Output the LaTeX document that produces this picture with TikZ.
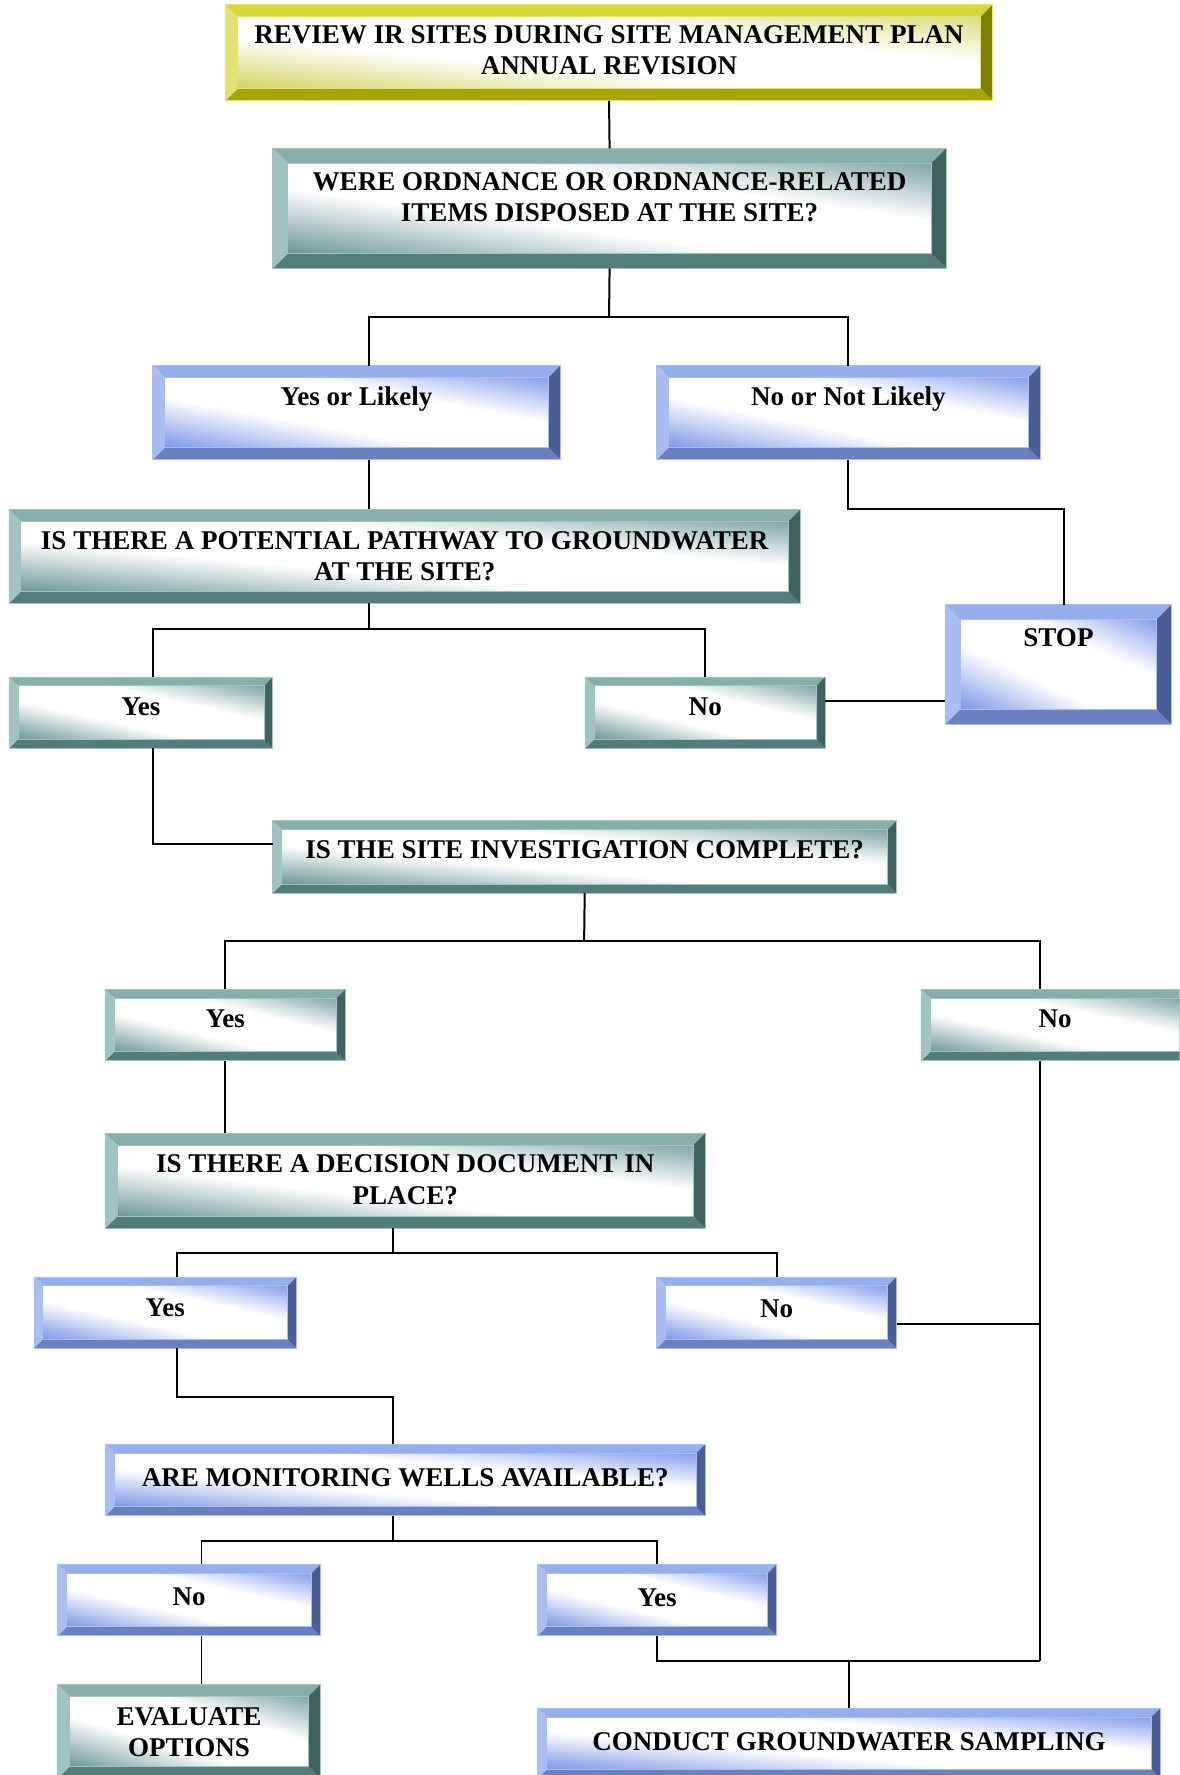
\documentclass[tikz,border=0pt]{standalone}
\usepackage{fontspec}
\setmainfont{Liberation Serif}
\usetikzlibrary{fit}
% teal family
\definecolor{tealT}{HTML}{86AFAC}
\definecolor{tealL}{HTML}{A0C4C2}
\definecolor{tealB}{HTML}{527D7A}
\definecolor{tealR}{HTML}{3F615F}
\definecolor{tealS1}{HTML}{6A9794}
\definecolor{tealS2}{HTML}{7FA6A3}
% blue family
\definecolor{blueT}{HTML}{95AEEC}
\definecolor{blueL}{HTML}{A9BDF2}
\definecolor{blueB}{HTML}{6A80C0}
\definecolor{blueR}{HTML}{4B5E94}
\definecolor{blueS1}{HTML}{7A95E6}
\definecolor{blueS2}{HTML}{859EEA}
% yellow family
\definecolor{yelT}{HTML}{D6D636}
\definecolor{yelL}{HTML}{E2E272}
\definecolor{yelB}{HTML}{A6A600}
\definecolor{yelR}{HTML}{808000}
\definecolor{yelS1}{HTML}{D3D35E}
\definecolor{yelS2}{HTML}{DCDC80}
\pgfdeclarehorizontalshading{tealsh}{100bp}{color(0bp)=(tealS1); color(25bp)=(tealS1); color(43bp)=(white); color(59bp)=(white); color(75bp)=(tealS2); color(100bp)=(tealS2)}
\pgfdeclarehorizontalshading{bluesh}{100bp}{color(0bp)=(blueS1); color(25bp)=(blueS1); color(43bp)=(white); color(59bp)=(white); color(75bp)=(blueS2); color(100bp)=(blueS2)}
\pgfdeclarehorizontalshading{yelsh}{100bp}{color(0bp)=(yelS1); color(25bp)=(yelS1); color(43bp)=(white); color(59bp)=(white); color(75bp)=(yelS2); color(100bp)=(yelS2)}
% #1 text offset (optional), #2 family, #3 name, #4 x1, #5 y1, #6 x2, #7 y2, #8 text
\newcommand\bevbox[8][19]{%
  \pgfmathsetmacro\bv{0.125*(#7-#5)}%
  \pgfmathsetmacro\xa{#4+\bv}\pgfmathsetmacro\xb{#6-\bv}%
  \pgfmathsetmacro\ya{#5+\bv}\pgfmathsetmacro\yb{#7-\bv}%
  \pgfmathsetmacro\xm{(#4+#6)/2}\pgfmathsetmacro\ym{(#5+#7)/2}%
  \pgfmathsetmacro\wcm{(\xb-\xa)*0.02}\pgfmathsetmacro\hcm{(\yb-\ya)*0.02}%
  \fill[#2T] (#4,#5) -- (#6,#5) -- (\xb,\ya) -- (\xa,\ya) -- cycle;
  \fill[#2B] (#4,#7) -- (#6,#7) -- (\xb,\yb) -- (\xa,\yb) -- cycle;
  \fill[#2L] (#4,#5) -- (\xa,\ya) -- (\xa,\yb) -- (#4,#7) -- cycle;
  \fill[#2R] (#6,#5) -- (\xb,\ya) -- (\xb,\yb) -- (#6,#7) -- cycle;
  \begin{scope}
    \clip (\xa,\ya) rectangle (\xb,\yb);
    \begin{scope}[transform canvas={shift={(\xm,\ym)}, xscale=\wcm, yscale=\hcm, rotate=45}]
      \shade[shading=#2sh] (-0.7072cm,-0.7072cm) rectangle (0.7072cm,0.7072cm);
    \end{scope}
  \end{scope}
  \draw[#2O] (\xa,\ya) rectangle (\xb,\yb);
  \draw[#2O] (#4,#5) rectangle (#6,#7);
  \node[inner sep=0pt, outer sep=0pt, fit={(#4,#5) (#6,#7)}] (#3) {};
  \node[lbl, anchor=north] (#3-t) at (\xm,#5+#1) {#8};
}
\begin{document}
\begin{tikzpicture}[x=0.02cm,y=-0.02cm,
  conn/.style={draw=black, line width=1pt},
  lbl/.style={font=\fontsize{13.6}{15.9}\selectfont\bfseries, align=center, inner sep=0pt, text=black},
  tealO/.style={draw=tealL, line width=0.4pt},
  blueO/.style={draw=blueL, line width=0.4pt},
  yelO/.style={draw=yelL, line width=0.4pt}]
\useasboundingbox (0,0) rectangle (1042,1568);
\clip (0,0) rectangle (1042,1568);

% boxes
\bevbox[18]{yel}{top}{199}{4}{877}{89}{REVIEW IR SITES DURING SITE MANAGEMENT PLAN\\ANNUAL REVISION}
\bevbox[21]{teal}{q1}{241}{131}{836}{237}{WERE ORDNANCE OR ORDNANCE-RELATED\\ITEMS DISPOSED AT THE SITE?}
\bevbox[18]{blue}{yl}{135}{323}{495}{406}{Yes or Likely}
\bevbox[18]{blue}{nl}{580}{323}{919}{406}{No or Not Likely}
\bevbox[19]{teal}{q2}{8}{450}{707}{533}{IS THERE A POTENTIAL PATHWAY TO GROUNDWATER\\AT THE SITE?}
\bevbox[18]{teal}{y2}{8}{598}{241}{661}{Yes}
\bevbox[18]{teal}{n2}{517}{598}{729}{661}{No}
\bevbox[21]{blue}{stop}{835}{534}{1035}{640}{STOP}
\bevbox[17]{teal}{q3}{241}{725}{792}{789}{IS THE SITE INVESTIGATION COMPLETE?}
\bevbox[18]{teal}{y3}{93}{874}{305}{937}{Yes}
\bevbox[18]{teal}{n3}{814}{874}{1050}{937}{No}
\bevbox[19]{teal}{q4}{93}{1001}{623}{1085}{IS THERE A DECISION DOCUMENT IN\\PLACE?}
\bevbox[19]{blue}{y4}{30}{1128}{262}{1191}{Yes}
\bevbox[20]{blue}{n4}{580}{1128}{792}{1191}{No}
\bevbox[21]{blue}{q5}{93}{1276}{623}{1339}{ARE MONITORING WELLS AVAILABLE?}
\bevbox[20]{blue}{n5}{51}{1382}{283}{1445}{No}
\bevbox[21]{blue}{y5}{475}{1382}{686}{1445}{Yes}
\bevbox[20]{teal}{ev}{51}{1488}{283}{1571}{EVALUATE\\OPTIONS}
\bevbox[21]{blue}{cg}{475}{1509}{1025}{1571}{CONDUCT GROUNDWATER SAMPLING}

% columns and rows
\coordinate (c135) at (135,0);
\coordinate (c156) at (156,0);
\coordinate (c178) at (178,0);
\coordinate (c199) at (199,0);
\coordinate (c326) at (326,0);
\coordinate (c347) at (347,0);
\coordinate (c750) at (750,0);
\coordinate (c919) at (919,0);
\coordinate (c940) at (940,0);
\coordinate (r450) at (0,450);
\coordinate (r619) at (0,619);
\coordinate (r746) at (0,746);
\coordinate (r1170) at (0,1170);
\coordinate (r1234) at (0,1234);
% junctions
\coordinate (j1) at (538,280);
\coordinate (j3) at (326,556);
\coordinate (j4) at (516,831);
\coordinate (j5) at (347,1107);
\coordinate (j6) at (919,1467);
\coordinate (j7) at (750,1467);
\coordinate (j9) at (347,1361);

% connectors
\draw[conn] (top.south) -- (q1.north);
\draw[conn] (q1.south) -- (j1);
\draw[conn] (j1) -| (yl.north -| c326);
\draw[conn] (j1) -| (nl.north);
\draw[conn] (yl.south -| c326) -- (q2.north -| c326);
\draw[conn] (nl.south) -- (nl.south |- r450) -| (stop.north -| c940);
\draw[conn] (q2.south -| c326) -- (j3);
\draw[conn] (j3) -| (y2.north -| c135);
\draw[conn] (j3) -| (n2.north);
\draw[conn] (n2.east |- r619) -- (stop.west |- r619);
\draw[conn] (y2.south -| c135) |- (q3.west |- r746);
\draw[conn] (q3.south) -- (j4);
\draw[conn] (j4) -| (y3.north);
\draw[conn] (j4) -| (n3.north -| c919);
\draw[conn] (y3.south) -- (q4.north -| c199);
\draw[conn] (q4.south -| c347) -- (j5);
\draw[conn] (j5) -| (y4.north -| c156);
\draw[conn] (j5) -| (n4.north);
\draw[conn] (n3.south -| c919) -- (j6);
\draw[conn] (n4.east |- r1170) -- (c919 |- r1170);
\draw[conn] (y5.south) |- (j6);
\draw[conn] (j7) -- (cg.north);
\draw[conn] (y4.south -| c156) |- (r1234 -| c347) -- (q5.north -| c347);
\draw[conn] (q5.south -| c347) -- (j9);
\draw[conn] (j9) -| (n5.north -| c178);
\draw[conn] (j9) -| (y5.north);
\draw[conn] (n5.south -| c178) -- (ev.north -| c178);
\end{tikzpicture}
\end{document}
